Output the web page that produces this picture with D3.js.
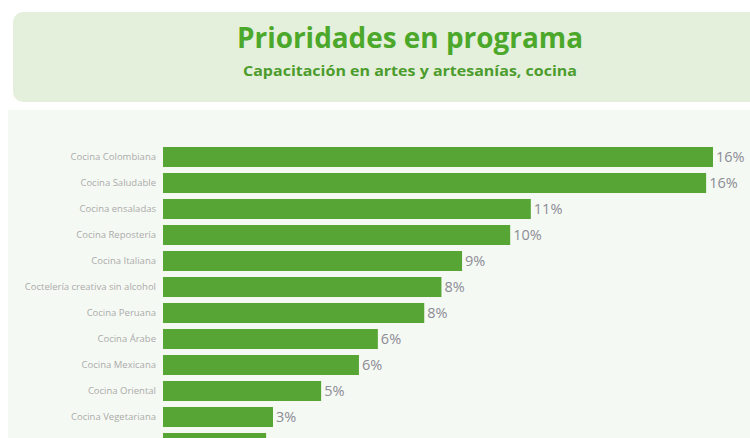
<!DOCTYPE html>
<html><head><meta charset="utf-8">
<script src="https://cdn.jsdelivr.net/npm/d3@7"></script>
<style>html,body{margin:0;padding:0;background:#fff;overflow:hidden}</style>
</head><body>
<svg id="chart" width="750" height="438"></svg>
<script>
const title = "Prioridades en programa";
const subtitle = "Capacitación en artes y artesanías, cocina";
const categories = ["Cocina Colombiana","Cocina Saludable","Cocina ensaladas","Cocina Repostería","Cocina Italiana","Coctelería creativa sin alcohol","Cocina Peruana","Cocina Árabe","Cocina Mexicana","Cocina Oriental","Cocina Vegetariana","Cocina Francesa"];
const values = [16.0, 15.8, 10.7, 10.1, 8.7, 8.1, 7.6, 6.25, 5.7, 4.6, 3.2, 3.0];
const valueLabels = ["16%","16%","11%","10%","9%","8%","8%","6%","6%","5%","3%","3%"];

const svg = d3.select("#chart");
const font = "'Open Sans', 'Noto Sans', sans-serif";

// panels
svg.append("rect").attr("x",13).attr("y",12).attr("width",760).attr("height",90).attr("rx",10)
  .attr("fill","#e4f0dc");
svg.append("rect").attr("x",8).attr("y",110).attr("width",760).attr("height",340)
  .attr("fill","#f5f9f3");

svg.append("text").attr("x",410).attr("y",48).attr("text-anchor","middle")
  .attr("font-family",font).attr("font-weight","bold").attr("font-size",28)
  .attr("textLength",346).attr("lengthAdjust","spacingAndGlyphs")
  .attr("fill","#4ca82a").text(title);
svg.append("text").attr("x",410).attr("y",76).attr("text-anchor","middle")
  .attr("font-family",font).attr("font-weight","bold").attr("font-size",15)
  .attr("textLength",334).attr("lengthAdjust","spacingAndGlyphs")
  .attr("fill","#4c9c2c").text(subtitle);

const y = d3.scaleBand().domain(categories).range([144, 456]).paddingInner(0.23).paddingOuter(0.115);
const x = d3.scaleLinear().domain([0, 16]).range([163, 713]);

const data = categories.map((c,i)=>({c, v: values[i], l: valueLabels[i]}));

svg.append("g").selectAll("rect").data(data).join("rect")
  .attr("x", x(0)).attr("y", d=>y(d.c))
  .attr("width", d=>x(d.v)-x(0)).attr("height", y.bandwidth())
  .attr("fill","#57a534");

const yAxis = d3.axisLeft(y).tickSize(0).tickPadding(0);
const gy = svg.append("g").attr("transform",`translate(${x(0)-7},0)`).call(yAxis);
gy.select(".domain").remove();
gy.selectAll("text").attr("font-family",font).attr("font-size",9.5).attr("fill","#ababab");

svg.append("g").selectAll("text").data(data).join("text")
  .attr("x", d=>x(d.v)+3).attr("y", d=>y(d.c)+y.bandwidth()/2)
  .attr("dy","0.35em").attr("font-family",font).attr("font-size",14.5)
  .attr("fill","#8c8c96").text(d=>d.l);
</script>
</body></html>
